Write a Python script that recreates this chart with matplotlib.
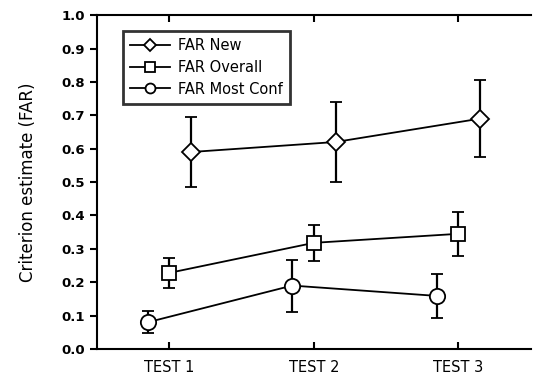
import numpy as np
import matplotlib.pyplot as plt

tests = ['TEST 1', 'TEST 2', 'TEST 3']
far_new = [0.59, 0.62, 0.69]
far_new_err = [0.105, 0.12, 0.115]
far_overall = [0.228, 0.318, 0.345]
far_overall_err = [0.045, 0.053, 0.065]
far_most_conf = [0.08, 0.19, 0.159]
far_most_conf_err = [0.033, 0.078, 0.067]

x = np.arange(1, len(tests) + 1)

fig = plt.figure(figsize=(5.34, 3.78), dpi=100)
ax = fig.add_axes([0.1816, 0.0767, 0.8124, 0.8833])

style = dict(color='black', lw=1.3, capsize=4, elinewidth=1.6, capthick=1.6,
             mfc='white', mec='black', mew=1.3)
ax.errorbar(x + 0.15, far_new, yerr=far_new_err, marker='D', ms=9,
            label='FAR New', **style)
ax.errorbar(x, far_overall, yerr=far_overall_err, marker='s', ms=10.5,
            label='FAR Overall', **style)
ax.errorbar(x - 0.15, far_most_conf, yerr=far_most_conf_err, marker='o', ms=11,
            label='FAR Most Conf', **style)

ax.set_xlim(0.5, 3.5)
ax.set_ylim(0, 1.0)
ax.set_yticks(np.arange(0, 1.01, 0.1))
ax.set_yticklabels(['%.1f' % v for v in np.arange(0, 1.01, 0.1)],
                   fontsize=9.5, fontweight='bold')
ax.set_xticks(x)
ax.set_xticklabels(tests, fontsize=10.5)
ax.tick_params(axis='x', direction='in', top=True, length=5, width=1.5, pad=8)
ax.tick_params(axis='y', direction='out', length=5, width=1.5)
ax.spines['right'].set_visible(False)
for s in ['left', 'bottom', 'top']:
    ax.spines[s].set_linewidth(1.5)

ax.set_ylabel('Criterion estimate (FAR)', fontsize=12, labelpad=18)

handles, labels = ax.get_legend_handles_labels()
handles = [h[0] for h in handles]
leg = ax.legend(handles, labels, loc='upper left', bbox_to_anchor=(0.06, 0.952),
                fontsize=10.5, frameon=True, fancybox=False, handlelength=2.75,
                markerscale=0.65, borderpad=0.5, labelspacing=0.45,
                handletextpad=0.55, borderaxespad=0)
leg.get_frame().set_edgecolor('black')
leg.get_frame().set_linewidth(2)

fig.savefig('out.png', dpi=100)
